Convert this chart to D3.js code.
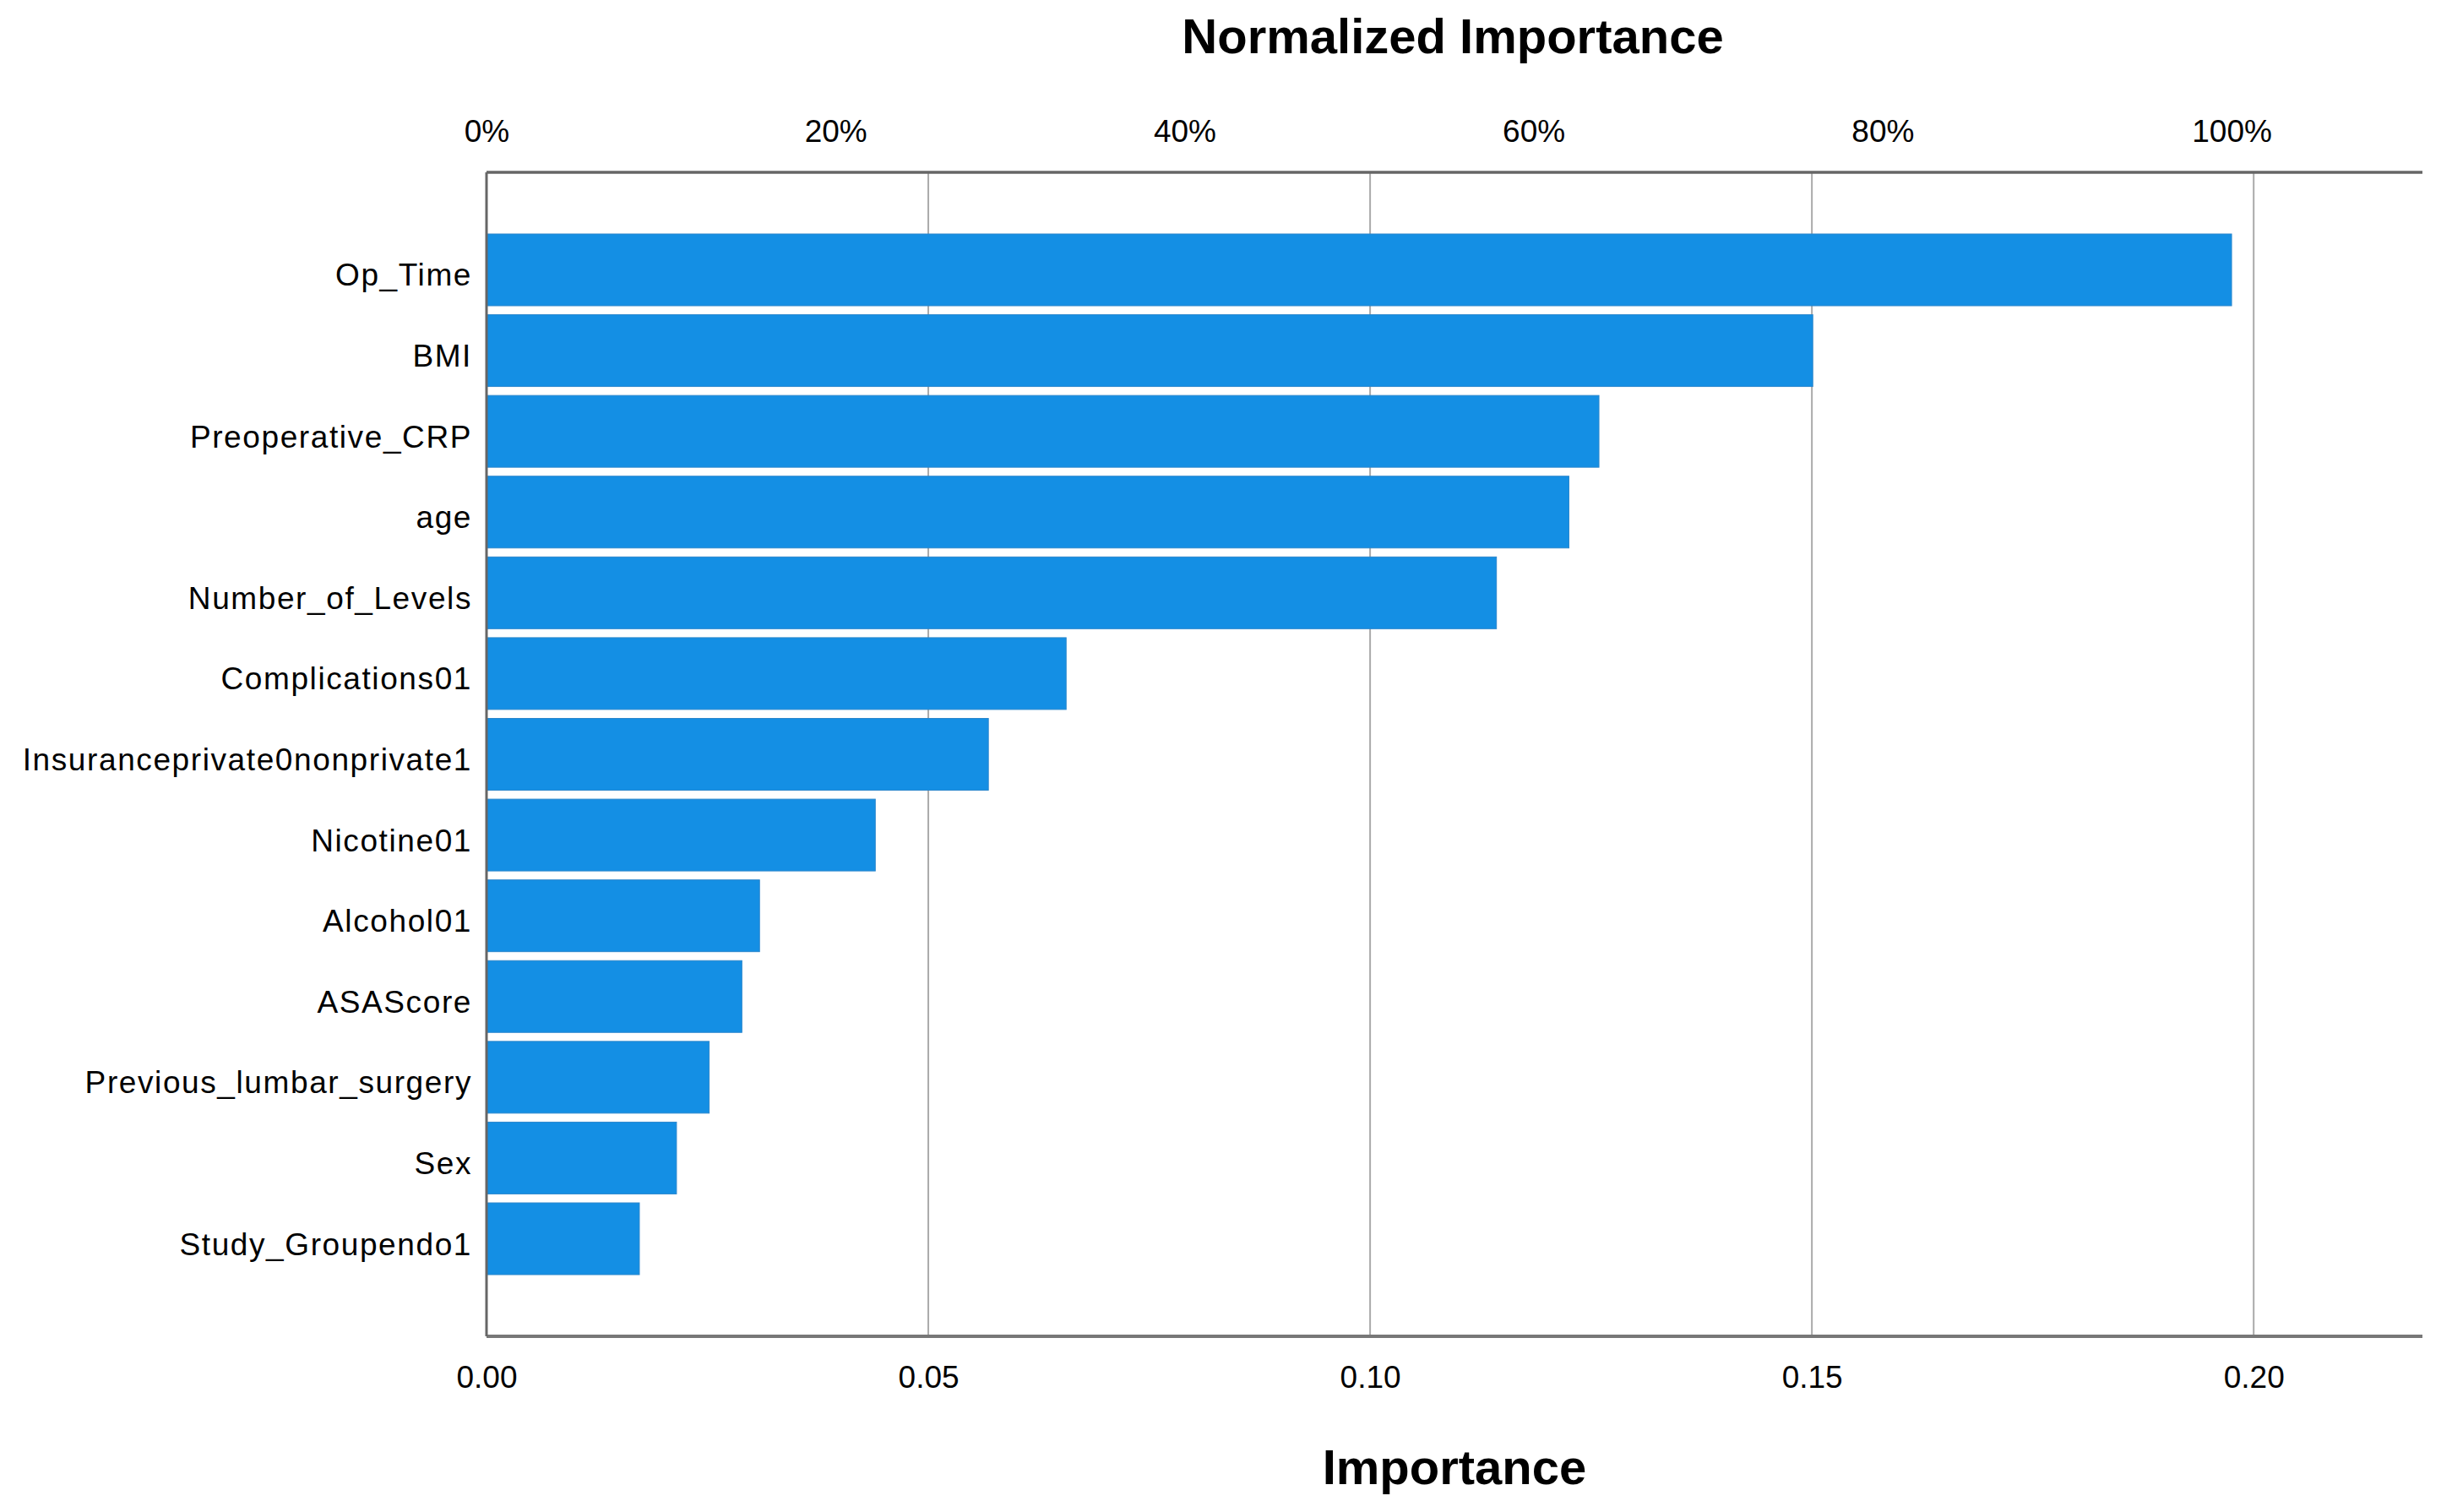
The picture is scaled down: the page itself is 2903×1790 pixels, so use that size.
<!DOCTYPE html>
<html>
<head>
<meta charset="utf-8">
<script src="https://cdn.jsdelivr.net/npm/d3@7"></script>
<style>
  html, body { margin: 0; padding: 0; background: #ffffff; }
  svg { display: block; }
  text { font-family: "Liberation Sans", Arial, sans-serif; fill: #000; }
</style>
</head>
<body>
<script>
// ---- data ----
const categories = [
  "Op_Time", "BMI", "Preoperative_CRP", "age", "Number_of_Levels",
  "Complications01", "Insuranceprivate0nonprivate1", "Nicotine01",
  "Alcohol01", "ASAScore", "Previous_lumbar_surgery", "Sex", "Study_Groupendo1"
];
const importance = [
  0.1975, 0.1501, 0.1259, 0.1225, 0.1143,
  0.0656, 0.0568, 0.0440,
  0.0309, 0.0289, 0.0252, 0.0215, 0.0173
];
const importanceTicks = [0.00, 0.05, 0.10, 0.15, 0.20];
const pctTicks = [0, 20, 40, 60, 80, 100];
const xMax = 0.2191;

// ---- layout ----
const W = 2903, H = 1790;
const plotLeft = 576, plotRight = 2868, plotTop = 204, plotBottom = 1582;

const svg = d3.select("body").append("svg").attr("width", W).attr("height", H);

const x = d3.scaleLinear().domain([0, xMax]).range([plotLeft, plotRight]);
const maxImp = d3.max(importance);
const xPct = d3.scaleLinear().domain([0, 100]).range([x(0), x(maxImp)]);
const y = d3.scaleBand().domain(categories).range([277, 1509]).paddingInner(0.111).paddingOuter(0);

// gridlines
svg.append("g").selectAll("line").data(importanceTicks.filter(d => d > 0)).join("line")
  .attr("x1", d => x(d)).attr("x2", d => x(d))
  .attr("y1", plotTop).attr("y2", plotBottom)
  .attr("stroke", "#aaaaaa").attr("stroke-width", 2);

// bars
svg.append("g").selectAll("rect").data(categories).join("rect")
  .attr("x", x(0))
  .attr("y", d => y(d))
  .attr("width", (d, i) => x(importance[i]) - x(0))
  .attr("height", y.bandwidth())
  .attr("fill", "#148fe4")
  .attr("stroke", "#2a86cc").attr("stroke-width", 1);

// category labels
svg.append("g").selectAll("text").data(categories).join("text")
  .attr("x", 559)
  .attr("y", d => y(d) + y.bandwidth() / 2 + 19)
  .attr("text-anchor", "end")
  .attr("font-size", 37)
  .attr("letter-spacing", "1.6px")
  .text(d => d);

// axes lines (frame)
svg.append("line").attr("x1", plotLeft).attr("x2", plotRight).attr("y1", plotTop).attr("y2", plotTop)
  .attr("stroke", "#666666").attr("stroke-width", 3.5);
svg.append("line").attr("x1", plotLeft).attr("x2", plotRight).attr("y1", plotBottom).attr("y2", plotBottom)
  .attr("stroke", "#777777").attr("stroke-width", 4);
svg.append("line").attr("x1", plotLeft).attr("x2", plotLeft).attr("y1", plotTop).attr("y2", plotBottom)
  .attr("stroke", "#666666").attr("stroke-width", 3);

// bottom axis via d3
const bottomAxis = d3.axisBottom(x).tickValues(importanceTicks)
  .tickFormat(d3.format(".2f")).tickSize(0).tickPadding(0);
const gb = svg.append("g").attr("transform", `translate(0,${plotBottom})`).call(bottomAxis);
gb.select(".domain").remove();
gb.selectAll("text").attr("font-size", 37).attr("dy", null).attr("y", 61)
  .attr("font-family", "Liberation Sans, Arial, sans-serif").attr("fill", "#000");

// top axis via d3
const topAxis = d3.axisTop(xPct).tickValues(pctTicks)
  .tickFormat(d => d + "%").tickSize(0).tickPadding(0);
const gt = svg.append("g").attr("transform", `translate(0,${plotTop})`).call(topAxis);
gt.select(".domain").remove();
gt.selectAll("text").attr("font-size", 37).attr("dy", null).attr("y", -36)
  .attr("font-family", "Liberation Sans, Arial, sans-serif").attr("fill", "#000");

// titles
svg.append("text").attr("x", (plotLeft + plotRight) / 2 - 2).attr("y", 63)
  .attr("text-anchor", "middle").attr("font-size", 58).attr("font-weight", "bold")
  .text("Normalized Importance");
svg.append("text").attr("x", (plotLeft + plotRight) / 2).attr("y", 1757)
  .attr("text-anchor", "middle").attr("font-size", 58).attr("font-weight", "bold")
  .text("Importance");
</script>
</body>
</html>
